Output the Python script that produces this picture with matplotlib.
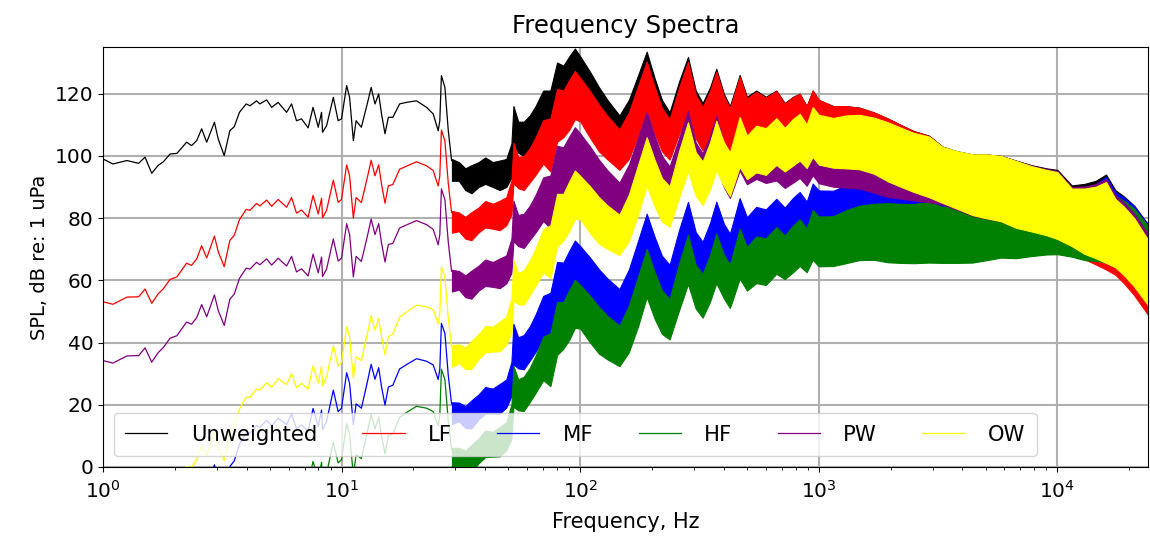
import matplotlib
matplotlib.use('Agg')
import matplotlib.pyplot as plt

# ---- low-frequency part (thin lines), Hz / dB ----
FREQ_LOW = [1.00, 1.10, 1.26, 1.41, 1.50, 1.60, 1.70, 1.79, 1.91, 2.04, 2.24, 2.35, 2.47, 2.59, 2.72,
            2.93, 3.04, 3.22, 3.40, 3.55, 3.73, 3.98, 4.13, 4.40, 4.54, 4.85, 5.09, 5.42, 5.88, 6.17,
            6.47, 6.79, 7.24, 7.59, 7.98, 8.24, 8.32, 8.65, 9.23, 9.67, 9.99, 10.5, 10.8, 11.2, 11.5,
            12.1, 12.5, 12.9, 13.3, 13.8, 14.3, 14.7, 15.2, 15.7, 16.4, 17.5, 18.7, 20.6, 22.7, 24.2,
            25.4, 25.8, 26.2, 27.1, 28.0, 28.9]
UNW_LOW = [99.0, 97.4, 98.5, 97.6, 99.6, 94.4, 96.9, 98.1, 100.6, 100.8, 104.4, 103.3, 104.9, 108.7, 104.4,
           110.8, 105.4, 100.1, 108.1, 109.4, 114.0, 116.7, 116.1, 117.7, 116.7, 118.0, 115.6, 117.2, 114.0, 116.7,
           111.3, 111.9, 109.0, 115.6, 109.2, 114.0, 107.6, 109.7, 118.8, 111.3, 111.9, 122.6, 118.8, 104.9, 111.3,
           109.2, 113.5, 117.7, 122.0, 116.7, 119.9, 113.5, 107.1, 112.4, 112.4, 116.7, 117.2, 117.7, 115.6, 113.5,
           108.1, 111.3, 125.8, 122.0, 108.1, 98.5]
LF_LOW = [53.1, 52.3, 54.6, 54.7, 57.2, 52.6, 55.6, 57.3, 60.3, 61.1, 65.5, 64.8, 66.9, 71.1, 67.2,
          74.2, 69.2, 64.4, 72.8, 74.5, 79.5, 82.8, 82.5, 84.7, 83.9, 85.8, 83.8, 86.0, 83.5, 86.6,
          81.6, 82.6, 80.3, 87.3, 81.3, 86.4, 80.1, 82.5, 92.2, 85.1, 86.0, 97.1, 93.6, 80.0, 86.6,
          85.0, 89.5, 94.0, 98.6, 93.6, 97.1, 90.9, 84.8, 90.4, 90.8, 95.7, 96.7, 98.1, 96.8, 95.3,
          90.3, 93.6, 108.3, 104.8, 91.1, 81.8]
MF_LOW = [-26.0, -26.3, -23.3, -22.6, -19.8, -24.1, -20.7, -18.8, -15.4, -14.3, -9.4, -9.8, -7.5, -3.1, -6.7,
          0.7, -4.1, -8.6, 0.1, 2.0, 7.3, 10.9, 10.8, 13.3, 12.7, 15.0, 13.2, 15.7, 13.6, 17.0,
          12.3, 13.5, 11.5, 18.8, 13.1, 18.3, 12.0, 14.7, 24.7, 17.8, 18.9, 30.3, 26.9, 13.5, 20.3,
          18.9, 23.6, 28.3, 33.0, 28.2, 31.9, 25.8, 19.9, 25.7, 26.3, 31.5, 32.9, 34.8, 34.0, 32.8,
          28.1, 31.5, 46.2, 42.9, 29.4, 20.3]
HF_LOW = [-46.5, -46.6, -43.4, -42.5, -39.6, -43.8, -40.3, -38.3, -34.8, -33.5, -28.5, -28.8, -26.5, -21.9, -25.4,
          -17.9, -22.7, -27.1, -18.3, -16.3, -10.9, -7.2, -7.2, -4.6, -5.2, -2.8, -4.5, -1.9, -3.8, -0.4,
          -5.0, -3.7, -5.5, 1.8, -3.8, 1.5, -4.8, -2.1, 8.0, 1.3, 2.4, 13.9, 10.5, -2.8, 4.0,
          2.7, 7.5, 12.2, 17.0, 12.2, 16.0, 10.0, 4.2, 10.0, 10.6, 15.9, 17.5, 19.5, 18.9, 17.8,
          13.2, 16.6, 31.4, 28.1, 14.7, 5.6]
PW_LOW = [34.2, 33.4, 35.7, 35.8, 38.3, 33.7, 36.7, 38.4, 41.4, 42.2, 46.6, 45.9, 48.0, 52.2, 48.3,
          55.3, 50.3, 45.5, 53.9, 55.6, 60.6, 63.9, 63.6, 65.8, 65.0, 66.9, 64.9, 67.1, 64.6, 67.7,
          62.7, 63.7, 61.4, 68.4, 62.4, 67.5, 61.2, 63.6, 73.3, 66.2, 67.1, 78.2, 74.7, 61.1, 67.7,
          66.1, 70.6, 75.1, 79.7, 74.7, 78.2, 72.0, 65.9, 71.5, 71.9, 76.8, 77.8, 79.2, 77.9, 76.4,
          71.4, 74.7, 89.4, 85.9, 72.2, 62.9]
OW_LOW = [-19.3, -19.3, -15.8, -14.7, -11.7, -15.7, -12.2, -10.1, -6.5, -5.1, 0.1, -0.2, 2.3, 6.9, 3.5,
          11.2, 6.4, 2.1, 11.0, 13.1, 18.6, 22.4, 22.4, 25.1, 24.7, 27.1, 25.6, 28.3, 26.5, 30.0,
          25.4, 26.9, 25.1, 32.5, 27.0, 32.3, 26.1, 28.9, 39.1, 32.4, 33.6, 45.1, 41.8, 28.6, 35.4,
          34.2, 39.1, 43.8, 48.7, 44.0, 47.8, 41.9, 36.1, 41.9, 42.7, 48.1, 49.8, 52.0, 51.5, 50.6,
          46.0, 49.5, 64.2, 61.0, 47.7, 38.6]

# ---- dense part: upper / lower edge of each noisy trace ----
FREQ_BAND = [29, 31, 33, 35, 37.5, 40, 43, 46, 49, 51.5, 52.5, 55, 58, 61.5, 65, 70, 75, 80, 85, 90,
             95, 100, 110, 120, 130, 146, 160, 175, 190, 205, 220, 237, 260, 283, 305, 326, 350, 372, 400, 424,
             445, 466, 500, 547, 600, 664, 720, 780, 832, 890, 943, 1000, 1150, 1300, 1480, 1700, 1950, 2200, 2500, 2900,
             3300, 3800, 4400, 5000, 5800, 6700, 7800, 9000, 10000, 11500, 13000, 14500, 16000, 17500, 19000, 21000, 24000]
UNW_HI = [99, 98, 96, 97, 98, 99.5, 98, 98.5, 99, 104, 116, 111, 111, 113, 116, 121, 121, 130, 129, 132,
          134.5, 132, 127, 122, 118, 113, 118, 126, 133.5, 125, 118, 114, 124, 131.8, 121, 117, 122, 128, 120, 116,
          121, 126, 119, 121, 119, 121, 117, 119, 120, 116, 121, 118, 116, 116, 115.5, 114, 112, 110, 108, 106.5,
          103, 101.5, 100.5, 100.5, 100, 98.5, 97, 96, 95.5, 90.5, 91, 92, 94, 89, 87, 84, 78]
UNW_LO = [92, 92, 89, 88, 90, 91, 90, 89, 90, 93, 103, 101, 100, 102, 104, 107, 104, 113, 114, 116,
          119, 118, 112, 107, 104, 100, 103, 110, 118, 110, 104, 101, 109, 116, 107, 103, 107, 112, 106, 102,
          106, 110, 105, 106, 104, 106, 103, 104, 105, 102, 105, 102, 100, 99, 98, 96, 93, 91, 89, 87,
          85, 83, 81, 80, 79, 77, 76, 75, 74, 72, 70, 69, 68, 67, 65, 62, 57]
LF_HI = [82.3, 81.8, 80.4, 81.9, 83.4, 85.5, 84.6, 85.6, 86.7, 92.1, 104.2, 99.6, 100.0, 102.5, 105.9, 111.5, 112.0, 121.5, 121.0, 124.4,
         127.3, 125.1, 120.8, 116.4, 112.9, 108.5, 114.0, 122.5, 130.4, 122.2, 115.5, 111.8, 122.1, 130.2, 119.6, 115.7, 120.9, 127.0, 119.2, 115.3,
         120.3, 125.4, 118.5, 120.6, 118.7, 120.8, 116.8, 118.9, 119.9, 115.9, 121.0, 118.0, 116.0, 116.0, 115.5, 114.0, 112.0, 110.0, 107.9, 106.4,
         102.9, 101.3, 100.2, 100.1, 99.4, 97.6, 95.8, 94.4, 93.5, 87.9, 87.8, 88.1, 89.5, 83.8, 81.1, 77.2, 69.9]
LF_LO = [75.3, 75.8, 73.4, 72.9, 75.4, 77.0, 76.6, 76.1, 77.7, 81.1, 91.2, 89.6, 89.0, 91.5, 93.9, 97.5, 95.0, 104.5, 106.0, 108.4,
         111.8, 111.1, 105.8, 101.4, 98.9, 95.5, 99.0, 106.5, 114.9, 107.2, 101.5, 98.8, 107.1, 114.4, 105.6, 101.7, 105.9, 111.0, 105.2, 101.3,
         105.3, 109.4, 104.5, 105.6, 103.7, 105.8, 102.8, 103.9, 104.9, 101.9, 105.0, 102.0, 100.0, 99.0, 98.0, 96.0, 93.0, 91.0, 88.9, 86.9,
         84.9, 82.8, 80.7, 79.6, 78.4, 76.1, 74.8, 73.4, 72.0, 69.4, 66.8, 65.1, 63.5, 61.8, 59.1, 55.2, 48.9]
MF_HI = [20.8, 20.7, 19.6, 21.4, 23.3, 25.7, 25.2, 26.7, 28.1, 33.8, 46.0, 41.7, 42.4, 45.2, 49.0, 55.0, 56.0, 65.9, 65.7, 69.5,
         72.8, 71.0, 67.3, 63.5, 60.6, 57.2, 63.5, 72.8, 81.4, 74.0, 67.9, 65.0, 76.3, 85.2, 75.5, 72.4, 78.4, 85.3, 78.2, 75.0,
         80.7, 86.4, 80.3, 83.6, 82.8, 86.2, 83.4, 86.5, 88.4, 85.3, 91.1, 88.9, 88.8, 90.5, 91.7, 92.1, 91.9, 91.5, 91.2, 91.5,
         89.7, 89.9, 90.5, 91.9, 92.9, 92.7, 92.5, 92.5, 92.7, 88.4, 89.5, 90.9, 93.2, 88.4, 86.6, 83.8, 77.9]
MF_LO = [13.8, 14.7, 12.6, 12.4, 15.3, 17.2, 17.2, 17.2, 19.1, 22.8, 33.0, 31.7, 31.4, 34.2, 37.0, 41.0, 39.0, 48.9, 50.7, 53.5,
         57.3, 57.0, 52.3, 48.5, 46.6, 44.2, 48.5, 56.8, 65.9, 59.0, 53.9, 52.0, 61.3, 69.4, 61.5, 58.4, 63.4, 69.3, 64.2, 61.0,
         65.7, 70.4, 66.3, 68.6, 67.8, 71.2, 69.4, 71.5, 73.4, 71.3, 75.1, 72.9, 72.8, 73.5, 74.2, 74.1, 72.9, 72.5, 72.2, 72.0,
         71.7, 71.4, 71.0, 71.4, 71.9, 71.2, 71.5, 71.5, 71.2, 69.9, 68.5, 67.9, 67.2, 66.4, 64.6, 61.8, 56.9]
HF_HI = [6.1, 6.2, 5.2, 7.1, 9.2, 11.7, 11.3, 12.9, 14.4, 20.1, 32.4, 28.2, 29.0, 31.9, 35.8, 41.9, 43.0, 53.0, 53.0, 56.9,
         60.2, 58.5, 55.0, 51.4, 48.6, 45.4, 51.9, 61.3, 70.1, 62.7, 56.8, 54.0, 65.5, 74.6, 64.9, 62.0, 68.1, 75.1, 68.2, 65.1,
         70.8, 76.6, 70.7, 74.1, 73.5, 77.1, 74.4, 77.6, 79.6, 76.6, 82.6, 80.5, 80.6, 82.5, 84.0, 84.6, 84.8, 84.6, 84.5, 85.2,
         83.6, 84.1, 85.2, 86.9, 88.3, 88.6, 88.8, 89.3, 89.9, 86.1, 87.5, 89.2, 91.8, 87.2, 85.6, 83.0, 77.4]
HF_LO = [-0.9, 0.2, -1.8, -1.9, 1.2, 3.2, 3.3, 3.4, 5.4, 9.1, 19.4, 18.2, 18.0, 20.9, 23.8, 27.9, 26.0, 36.0, 38.0, 40.9,
         44.7, 44.5, 40.0, 36.4, 34.6, 32.4, 36.9, 45.3, 54.6, 47.7, 42.8, 41.0, 50.5, 58.8, 50.9, 48.0, 53.1, 59.1, 54.2, 51.1,
         55.8, 60.6, 56.7, 59.1, 58.5, 62.1, 60.4, 62.6, 64.6, 62.6, 66.6, 64.5, 64.6, 65.5, 66.5, 66.6, 65.8, 65.6, 65.5, 65.7,
         65.6, 65.6, 65.7, 66.4, 67.3, 67.1, 67.8, 68.3, 68.4, 67.6, 66.5, 66.2, 65.8, 65.2, 63.6, 61.0, 56.4]
PW_HI = [63.4, 63.0, 61.6, 63.1, 64.7, 66.7, 65.9, 67.0, 68.0, 73.4, 85.6, 81.0, 81.4, 84.0, 87.4, 93.1, 93.7, 103.2, 102.8, 106.2,
         109.2, 107.2, 103.0, 98.7, 95.4, 91.4, 97.2, 106.0, 114.2, 106.4, 100.0, 96.6, 105.9, 114.4, 104.3, 100.8, 106.4, 112.9, 104.0, 100.5,
         105.9, 111.3, 104.9, 107.6, 106.3, 107.1, 103.7, 106.4, 107.9, 104.4, 109.8, 107.2, 106.1, 106.8, 107.0, 106.2, 105.8, 105.3, 104.7, 104.6,
         102.4, 101.2, 100.3, 100.4, 100.0, 98.5, 96.9, 95.8, 95.2, 90.0, 90.2, 90.9, 92.6, 87.3, 85.0, 81.5, 74.8]
PW_LO = [56.4, 57.0, 54.6, 54.1, 56.7, 58.2, 57.9, 57.5, 59.0, 62.4, 72.6, 71.0, 70.4, 73.0, 75.4, 79.1, 76.7, 86.2, 87.8, 90.2,
         93.7, 93.2, 88.0, 83.7, 81.4, 78.4, 82.2, 90.0, 98.7, 91.4, 86.0, 83.6, 90.9, 98.6, 90.3, 86.8, 91.4, 96.9, 90.0, 86.5,
         90.9, 95.3, 90.9, 92.6, 91.3, 92.1, 89.7, 91.4, 92.9, 90.4, 93.8, 91.2, 90.1, 89.8, 89.5, 88.2, 86.8, 86.3, 85.7, 85.1,
         84.4, 82.7, 80.8, 79.9, 79.0, 77.0, 75.9, 74.8, 73.7, 71.5, 69.2, 67.9, 66.6, 65.3, 63.0, 59.5, 53.8]
OW_HI = [39.2, 39.4, 38.5, 40.5, 42.7, 45.3, 45.1, 46.7, 48.3, 54.2, 66.5, 62.3, 63.2, 66.3, 70.2, 76.5, 77.7, 87.8, 87.8, 91.8,
         95.3, 93.6, 90.2, 86.7, 84.1, 81.1, 87.6, 97.2, 106.0, 98.8, 92.9, 90.2, 101.7, 110.8, 101.2, 98.2, 104.3, 111.3, 104.3, 101.1,
         106.8, 112.5, 106.5, 109.7, 108.9, 112.1, 109.0, 111.9, 113.5, 110.1, 115.7, 113.2, 112.2, 113.0, 113.2, 112.3, 110.8, 109.1, 107.4, 106.2,
         102.9, 101.5, 100.5, 100.5, 100.0, 98.4, 96.7, 95.5, 94.8, 89.5, 89.5, 90.1, 91.6, 86.2, 83.7, 80.0, 73.0]
OW_LO = [32.2, 33.4, 31.5, 31.5, 34.7, 36.8, 37.1, 37.2, 39.3, 43.2, 53.5, 52.3, 52.2, 55.3, 58.2, 62.5, 60.7, 70.8, 72.8, 75.8,
         79.8, 79.6, 75.2, 71.7, 70.1, 68.1, 72.6, 81.2, 90.5, 83.8, 78.9, 77.2, 86.7, 95.0, 87.2, 84.2, 89.3, 95.3, 90.3, 87.1,
         91.8, 96.5, 92.5, 94.7, 93.9, 97.1, 95.0, 96.9, 98.5, 96.1, 99.7, 97.2, 96.2, 96.0, 95.7, 94.3, 91.8, 90.1, 88.4, 86.7,
         84.9, 83.0, 81.0, 80.0, 79.0, 76.9, 75.7, 74.5, 73.3, 71.0, 68.5, 67.1, 65.6, 64.2, 61.7, 58.0, 52.0]

LABELS = ['Unweighted', 'LF', 'MF', 'HF', 'PW', 'OW']
COLORS = ['black', 'red', 'blue', 'green', 'purple', 'yellow']

low = [UNW_LOW, LF_LOW, MF_LOW, HF_LOW, PW_LOW, OW_LOW]
his = [UNW_HI, LF_HI, MF_HI, HF_HI, PW_HI, OW_HI]
los = [UNW_LO, LF_LO, MF_LO, HF_LO, PW_LO, OW_LO]

plt.rcParams['font.family'] = ['DejaVu Sans']
plt.rcParams['font.size'] = 14

fig = plt.figure(figsize=(11.5, 5.42), dpi=100)
ax = fig.add_axes([0.0896, 0.1384, 0.9087, 0.7749])

for lab, c, yl, yh, ylo in zip(LABELS, COLORS, low, his, los):
    ax.plot(FREQ_LOW, yl, color=c, lw=0.9, label=lab)
    ax.fill_between(FREQ_BAND, ylo, yh, color=c, lw=0.8)

ax.set_xscale('log')
ax.set_xlim(1, 24000)
ax.set_ylim(0, 135)
ax.set_yticks([0, 20, 40, 60, 80, 100, 120])
ax.tick_params(labelsize=14.5)
ax.tick_params(axis='x', pad=6)
ax.grid(True, color='#b0b0b0', lw=1.5)
ax.set_axisbelow(True)
ax.set_title('Frequency Spectra', fontsize=17.5, pad=10)
ax.set_xlabel('Frequency, Hz', fontsize=15, labelpad=7)
ax.set_ylabel('SPL, dB re: 1 uPa', fontsize=14)

ax.legend(loc='lower left', ncol=6, framealpha=0.8, columnspacing=2.15,
          handletextpad=1.1, borderpad=0.55, fontsize=15.2)

fig.savefig('out.png', dpi=100)
